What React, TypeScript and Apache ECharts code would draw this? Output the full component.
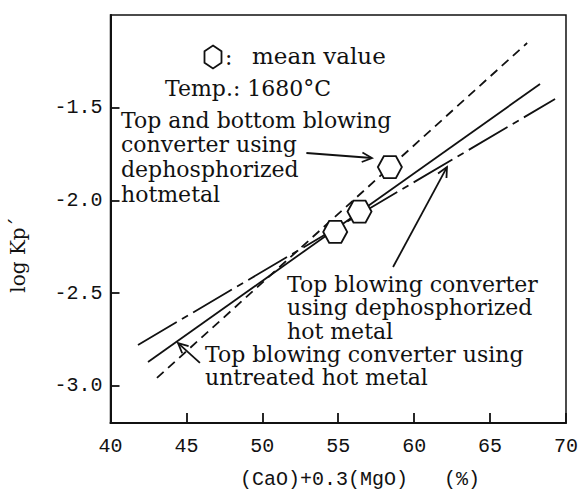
import React, { useEffect, useRef } from "react";
import * as echarts from "echarts";

// ---- data ----
const xTicks = [40, 45, 50, 55, 60, 65, 70];
const yTicks = [-3.0, -2.5, -2.0, -1.5];
// Top and bottom blowing converter using dephosphorized hotmetal (dashed)
const lineTopBottomDephos = [
  [43.06, -2.957],
  [67.44, -1.151],
];
// Top blowing converter using untreated hot metal (solid)
const lineTopUntreated = [
  [42.47, -2.871],
  [68.29, -1.372],
];
// Top blowing converter using dephosphorized hot metal (dash-dot)
const lineTopDephos = [
  [41.81, -2.779],
  [69.28, -1.453],
];
// mean values (hexagons)
const meanValues = [
  [58.4, -1.82],
  [56.4, -2.06],
  [54.8, -2.17],
];
// annotation arrows (data coordinates: tail -> tip)
const arrowTails = [
  [52.9, -1.744],
  [58.61, -2.359],
  [45.89, -2.876],
];
const arrowTips = [
  [57.22, -1.771],
  [62.16, -1.82],
  [44.45, -2.769],
];
// annotation texts
const noteTopBottom = ["Top and bottom blowing", "converter using", "dephosphorized", "hotmetal"];
const noteTopDephos = ["Top blowing converter", "using dephosphorized", "hot metal"];
const noteTopUntreated = ["Top blowing converter using", "untreated hot metal"];
const legendText = "mean value";
const tempText = "Temp.: 1680°C";
const xName = "(CaO)+0.3(MgO)   (%)";
const yName = "log Kp´";

const SERIF = '"DejaVu Serif", "Liberation Serif", serif';
const MONO = '"Liberation Mono", "DejaVu Sans Mono", monospace';
const INK = "#111";
const HEX_FLAT = "path://M-0.5,-0.866 L0.5,-0.866 L1,0 L0.5,0.866 L-0.5,0.866 L-1,0 Z";

function textEl(
  text: string,
  x: number,
  y: number,
  size: number,
  family = SERIF,
  align = "left",
  rotation = 0,
  vAlign = "middle",
  lineHeight?: number
) {
  return {
    type: "text",
    x,
    y,
    rotation,
    z: 10,
    style: {
      text,
      fill: INK,
      font: `${size}px ${family}`,
      textAlign: align,
      textVerticalAlign: vAlign,
      align,
      verticalAlign: vAlign,
      lineHeight: lineHeight ?? size,
    },
  };
}

function blockEl(lines: string[], x: number, firstCenterY: number, lineHeight: number, size: number) {
  return textEl(lines.join("\n"), x, firstCenterY - lineHeight / 2, size, SERIF, "left", 0, "top", lineHeight);
}

export default function App() {
  const ref = useRef<HTMLDivElement>(null);

  useEffect(() => {
    if (!ref.current) return;
    const chart = echarts.init(ref.current, null, { renderer: "svg" });
    const lineBase = (name: string, data: number[][], type: any) => ({
      name,
      type: "line",
      data,
      showSymbol: false,
      symbol: "none",
      z: 2,
      lineStyle: { color: INK, width: 1.8, type },
    });
    chart.setOption({
      animation: false,
      backgroundColor: "#fff",
      grid: {
        left: 110.5,
        right: 15,
        top: 15,
        bottom: 68,
        show: true,
        borderColor: INK,
        borderWidth: 1.5,
      },
      xAxis: {
        type: "value",
        min: xTicks[0],
        max: xTicks[xTicks.length - 1],
        interval: 5,
        axisLine: { lineStyle: { color: INK, width: 2 } },
        axisTick: { inside: true, length: 10, lineStyle: { color: INK, width: 1.8 } },
        axisLabel: {
          color: INK,
          fontFamily: MONO,
          fontSize: 20,
          margin: 13,
          showMinLabel: true,
          showMaxLabel: true,
          formatter: (v: number) => String(v),
        },
        splitLine: { show: false },
      },
      yAxis: {
        type: "value",
        min: -3.2,
        max: -1.0,
        axisLine: { lineStyle: { color: INK, width: 2 } },
        axisTick: { inside: true, length: 9, customValues: yTicks, lineStyle: { color: INK, width: 1.8 } },
        axisLabel: {
          color: INK,
          fontFamily: MONO,
          fontSize: 20,
          margin: 8,
          customValues: yTicks,
          formatter: (v: number) => v.toFixed(1),
        },
        splitLine: { show: false },
      },
      series: [
        lineBase("Top and bottom blowing, dephosphorized", lineTopBottomDephos, [9, 6]),
        lineBase("Top blowing, untreated", lineTopUntreated, "solid"),
        lineBase("Top blowing, dephosphorized", lineTopDephos, [45, 6, 7, 6]),
        {
          name: "mean value",
          type: "scatter",
          data: meanValues,
          symbol: HEX_FLAT,
          symbolSize: [24, 22],
          z: 5,
          itemStyle: { color: "#fff", borderColor: INK, borderWidth: 1.8, opacity: 1 },
        },
      ],
    });

    // annotations
    const graphics: any[] = [];
    // legend hexagon (pointy top)
    const hx = 213, hy = 57, hw = 8.5, hh = 11.5;
    graphics.push({
      type: "polygon",
      z: 10,
      shape: {
        points: [
          [hx, hy - hh],
          [hx + hw, hy - hh / 2],
          [hx + hw, hy + hh / 2],
          [hx, hy + hh],
          [hx - hw, hy + hh / 2],
          [hx - hw, hy - hh / 2],
        ],
      },
      style: { fill: "#fff", stroke: INK, lineWidth: 1.8 },
    });
    graphics.push(textEl(":", 225, 57, 22));
    graphics.push(textEl(legendText, 252, 56, 23));
    graphics.push(textEl(tempText, 165, 88, 22));
    graphics.push(blockEl(noteTopBottom, 121, 120, 24.7, 22));
    graphics.push(blockEl(noteTopDephos, 287, 284, 23.5, 22));
    graphics.push(blockEl(noteTopUntreated, 205, 354.5, 23, 22));
    graphics.push(textEl(xName, 360, 479, 20, MONO, "center"));
    graphics.push(textEl(yName, 18, 255, 20, SERIF, "center", Math.PI / 2));

    arrowTails.forEach((tail, i) => {
      const p0 = chart.convertToPixel({ gridIndex: 0 }, tail) as number[];
      const p1 = chart.convertToPixel({ gridIndex: 0 }, arrowTips[i]) as number[];
      const ang = Math.atan2(p1[1] - p0[1], p1[0] - p0[0]);
      const L = 11, a = 0.45;
      const h1 = [p1[0] - L * Math.cos(ang - a), p1[1] - L * Math.sin(ang - a)];
      const h2 = [p1[0] - L * Math.cos(ang + a), p1[1] - L * Math.sin(ang + a)];
      graphics.push({
        type: "line",
        z: 10,
        shape: { x1: p0[0], y1: p0[1], x2: p1[0], y2: p1[1] },
        style: { stroke: INK, lineWidth: 1.8 },
      });
      graphics.push({
        type: "polyline",
        z: 10,
        shape: { points: [h1, p1, h2] },
        style: { stroke: INK, lineWidth: 1.8, fill: null },
      });
    });
    chart.setOption({ graphic: graphics });

    return () => chart.dispose();
  }, []);

  return (
    <div
      ref={ref}
      style={{ position: "fixed", left: 0, top: 0, width: 581, height: 491, background: "#fff" }}
    />
  );
}
